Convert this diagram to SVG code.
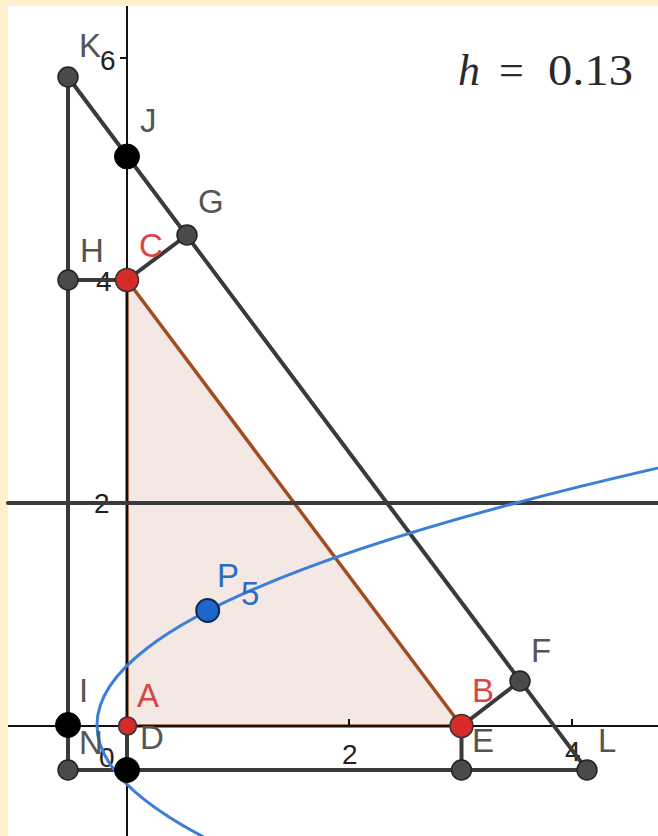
<svg xmlns="http://www.w3.org/2000/svg" width="658" height="836" viewBox="0 0 658 836">
<style>
.ax{stroke:#111;stroke-width:2;fill:none}
.ln{stroke:#3a3a3a;stroke-width:4;fill:none;stroke-linecap:round}
.tri{stroke:#a04d22;stroke-width:3.5;fill:#f3e8e3;stroke-linejoin:round}
.cv{stroke:#3d7fd6;stroke-width:3;fill:none}
.pg{fill:#4a4a4a;stroke:#222;stroke-width:1.5}
.pb{fill:#000;stroke:#000;stroke-width:1}
.pr{fill:#d52b2b;stroke:#333;stroke-width:1.5}
.pbl{fill:#1f66cc;stroke:#0d2a55;stroke-width:2}
.lb{font-family:"Liberation Sans",Arial,sans-serif;font-size:33px;fill:#555}
.lr{font-family:"Liberation Sans",Arial,sans-serif;font-size:33px;fill:#d94545}
.lbl{font-family:"Liberation Sans",Arial,sans-serif;font-size:33px;fill:#2b6cc4}
.tk{font-family:"Liberation Sans",Arial,sans-serif;font-size:28px;fill:#222}
</style>
<rect x="0" y="0" width="658" height="836" fill="#fff0cd"/>
<rect x="8" y="6" width="650" height="830" fill="#ffffff"/>
<g id="triangle">
<polygon class="tri" points="127,726 461.5,726 127,280"/>
</g>
<g id="axes">
<line class="ax" x1="127" y1="6" x2="127" y2="836"/>
<line class="ax" x1="8" y1="726" x2="658" y2="726"/>
<line class="ax" x1="120" y1="58" x2="127" y2="58"/>
<line class="ax" x1="120" y1="280" x2="127" y2="280"/>
<line class="ax" x1="120" y1="503" x2="127" y2="503"/>
<line class="ax" x1="349" y1="719" x2="349" y2="726"/>
<line class="ax" x1="572" y1="719" x2="572" y2="726"/>
<text class="tk" x="100" y="70">6</text>
<text class="tk" x="96" y="291">4</text>
<text class="tk" x="94" y="513">2</text>
<text class="tk" x="342" y="764">2</text>
<text class="tk" x="565" y="761">4</text>
<text class="tk" x="99" y="767" font-size="24" fill="#777">0</text>
</g>
<g id="connectors">
<line class="ln" x1="8" y1="503" x2="658" y2="503" stroke="#333"/>
<line class="ln" x1="68" y1="77" x2="587" y2="770"/>
<line class="ln" x1="68" y1="77" x2="68" y2="771"/>
<line class="ln" x1="68" y1="280" x2="127" y2="280"/>
<line class="ln" x1="127" y1="280" x2="187" y2="235"/>
<line class="ln" x1="461.5" y1="726" x2="520" y2="681"/>
<line class="ln" x1="68" y1="770" x2="587" y2="770"/>
<line class="ln" x1="461.5" y1="726" x2="461.5" y2="770"/>
<line class="ln" x1="127" y1="726" x2="127" y2="770"/>
<path class="cv" d="M 716.6 455 Q -166.9 647.5 209.4 840"/>
</g>
<g id="K"><circle class="pg" cx="68" cy="77" r="10"/><text class="lb" x="79" y="57">K</text></g>
<g id="J"><circle class="pb" cx="127" cy="156.5" r="12.5"/><text class="lb" x="140" y="132">J</text></g>
<g id="G"><circle class="pg" cx="187" cy="235" r="10"/><text class="lb" x="198" y="213">G</text></g>
<g id="H"><circle class="pg" cx="68" cy="280" r="10"/><text class="lb" x="80" y="262">H</text></g>
<g id="C"><circle class="pr" cx="127" cy="280" r="11.5"/><text class="lr" x="139" y="257">C</text></g>
<g id="I"><circle class="pb" cx="68" cy="725" r="12.5"/><text class="lb" x="79" y="702">I</text></g>
<g id="N"><circle class="pg" cx="68" cy="770" r="10"/><text class="lb" x="79" y="754" fill="#666">N</text></g>
<g id="D"><circle class="pb" cx="127" cy="770" r="12.5"/><text class="lb" x="140" y="749">D</text></g>
<g id="A"><circle class="pr" cx="127.5" cy="726" r="9"/><text class="lr" x="137" y="707">A</text></g>
<g id="B"><circle class="pr" cx="461.5" cy="726" r="11.5"/><text class="lr" x="472" y="702">B</text></g>
<g id="E"><circle class="pg" cx="461.5" cy="770" r="10"/><text class="lb" x="472" y="752">E</text></g>
<g id="L"><circle class="pg" cx="587" cy="770" r="10"/><text class="lb" x="598" y="752">L</text></g>
<g id="F"><circle class="pg" cx="520" cy="681" r="10"/><text class="lb" x="531" y="662">F</text></g>
<g id="P5"><circle class="pbl" cx="207.7" cy="610.5" r="11.5"/><text class="lbl" x="217" y="587">P</text><text class="lbl" x="241" y="605" font-size="28">5</text></g>
<g id="hvalue">
<text x="458" y="85" font-family="Liberation Serif,'Times New Roman',serif" font-size="44" font-style="italic" fill="#2a2a2a">h</text>
<text x="499" y="85" font-family="Liberation Serif,'Times New Roman',serif" font-size="44" fill="#2a2a2a">=</text>
<text x="548" y="85" font-family="Liberation Serif,'Times New Roman',serif" font-size="44" fill="#2a2a2a" textLength="85" lengthAdjust="spacingAndGlyphs">0.13</text>
</g>
</svg>
